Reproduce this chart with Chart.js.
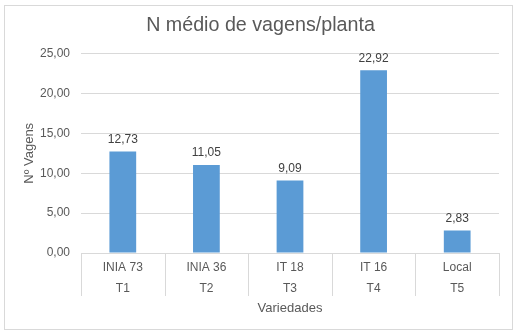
<!DOCTYPE html>
<html>
<head>
<meta charset="utf-8">
<script src="https://cdn.jsdelivr.net/npm/chart.js@4"></script>
<style>
  html, body { margin: 0; padding: 0; background: #fff; }
  #frame { position: absolute; left: 4px; top: 5px; width: 509px; height: 325px; box-sizing: border-box; border: 1px solid #d9d9d9; }
  #wrap { position: absolute; left: 0; top: 0; width: 518px; height: 336px; }
</style>
</head>
<body>
<div id="frame"></div>
<div id="wrap"><canvas id="chart-vagens"></canvas></div>
<script>
// Nº médio de vagens por planta, por variedade
const variedades = ['INIA 73', 'INIA 36', 'IT 18', 'IT 16', 'Local'];
const tratamentos = ['T1', 'T2', 'T3', 'T4', 'T5'];
const vagens = [12.73, 11.05, 9.09, 22.92, 2.83];
const yTicks = [0, 5, 10, 15, 20, 25];

const FONT = '"Liberation Sans", Arial, sans-serif';
const GREY = '#d9d9d9';
const TEXT = '#595959';

const fmt = v => v.toFixed(2).replace('.', ',');

// value labels above each bar
const valueLabels = {
  id: 'valueLabels',
  afterDatasetsDraw(chart) {
    const ctx = chart.ctx;
    const meta = chart.getDatasetMeta(0);
    ctx.save();
    ctx.font = '12px ' + FONT;
    ctx.fillStyle = '#404040';
    ctx.textAlign = 'center';
    ctx.textBaseline = 'bottom';
    meta.data.forEach((bar, i) => {
      ctx.fillText(fmt(vagens[i]), bar.x, bar.y - 6);
    });
    ctx.restore();
  }
};

// category dividers under the axis (two-level label table)
const dividers = {
  id: 'dividers',
  afterDraw(chart) {
    const x = chart.scales.x;
    const ctx = chart.ctx;
    const half = (x.getPixelForValue(1) - x.getPixelForValue(0)) / 2;
    const top = chart.chartArea.bottom;
    ctx.save();
    ctx.strokeStyle = GREY;
    ctx.lineWidth = 1;
    ctx.beginPath();
    for (let i = 0; i <= variedades.length; i++) {
      const px = Math.round(x.getPixelForValue(i) - half) + 0.5;
      ctx.moveTo(px, top);
      ctx.lineTo(px, top + 43);
    }
    ctx.stroke();
    ctx.restore();
  }
};

new Chart(document.getElementById('chart-vagens'), {
  type: 'bar',
  data: {
    labels: variedades.map((v, i) => [v, tratamentos[i]]),
    datasets: [{
      data: vagens,
      backgroundColor: '#5b9bd5',
      categoryPercentage: 1,
      barPercentage: 0.32,
    }]
  },
  options: {
    responsive: true,
    maintainAspectRatio: false,
    animation: false,
    layout: { padding: { left: 22, right: 19, top: 14, bottom: 20 } },
    plugins: {
      legend: { display: false },
      tooltip: { enabled: false },
      title: {
        display: true,
        text: 'N médio de vagens/planta',
        color: TEXT,
        font: { family: FONT, size: 19.7, weight: 'normal' },
        padding: { top: 0, bottom: 16 },
      },
    },
    scales: {
      x: {
        afterFit: s => { s.height = 63; },
        grid: { display: false, drawTicks: false },
        border: { display: true, color: GREY },
        ticks: {
          color: TEXT,
          padding: 4,
          maxRotation: 0,
          font: { family: FONT, size: 12, lineHeight: '21px' },
        },
        title: {
          display: true,
          text: 'Variedades',
          color: TEXT,
          font: { family: FONT, size: 13 },
          padding: { top: 2, bottom: 0 },
        },
      },
      y: {
        min: 0,
        max: 25,
        afterBuildTicks: s => { s.ticks = yTicks.map(v => ({ value: v })); },
        afterFit: s => { s.width = 81 - 22; },
        grid: { color: GREY, drawTicks: false },
        border: { display: false },
        ticks: {
          color: TEXT,
          padding: 11,
          font: { family: FONT, size: 12 },
          callback: v => fmt(v),
        },
        title: {
          display: true,
          text: 'Nº Vagens',
          color: TEXT,
          font: { family: FONT, size: 13 },
          padding: 0,
        },
      },
    },
  },
  plugins: [valueLabels, dividers],
});
</script>
</body>
</html>
